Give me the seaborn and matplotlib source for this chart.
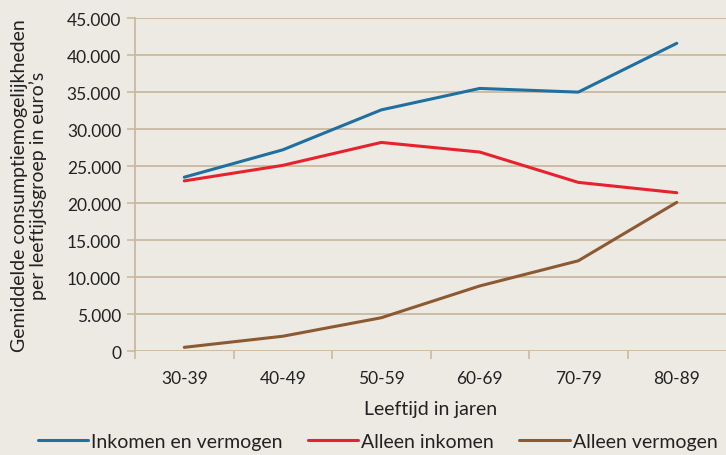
import pandas as pd
import numpy as np
import seaborn as sns
import matplotlib.pyplot as plt
from matplotlib.ticker import FuncFormatter

leeftijd = ['30-39', '40-49', '50-59', '60-69', '70-79', '80-89']
inkomen_en_vermogen = [23500, 27200, 32600, 35500, 35000, 41600]
alleen_inkomen = [23000, 25100, 28200, 26900, 22800, 21400]
alleen_vermogen = [500, 2000, 4500, 8800, 12200, 20100]

series = {
    'Inkomen en vermogen': inkomen_en_vermogen,
    'Alleen inkomen': alleen_inkomen,
    'Alleen vermogen': alleen_vermogen,
}
colors = ['#1f6fa0', '#e8212e', '#8c5a32']

rows = []
for name, vals in series.items():
    for i, (lab, v) in enumerate(zip(leeftijd, vals)):
        rows.append({'pos': i, 'Leeftijd': lab, 'Waarde': v, 'Groep': name})
df = pd.DataFrame(rows)

bg = '#edeae3'
grid = '#c9b9a0'

sns.set_theme(style='white')
plt.rcParams['font.family'] = ['Lato', 'DejaVu Sans']

fig = plt.figure(figsize=(7.26, 4.56), dpi=100, facecolor=bg)
ax = fig.add_axes([0.186, 0.228, 0.814, 0.73])
ax.set_facecolor(bg)

sns.lineplot(data=df, x='pos', y='Waarde', hue='Groep', palette=colors,
             linewidth=2.2, ax=ax, legend=True)

ax.set_xlim(-0.5, 5.5)
ax.set_ylim(0, 45000)
ax.set_yticks(np.arange(0, 45001, 5000))
ax.yaxis.set_major_formatter(FuncFormatter(lambda v, p: f'{int(v):,}'.replace(',', '.')))
ax.grid(axis='y', color=grid, linewidth=1.3)
ax.set_axisbelow(True)

ax.set_xticks(range(len(leeftijd)))
ax.set_xticklabels(leeftijd)
ax.set_xticks(np.arange(-0.5, 5.0, 1.0), minor=True)
ax.tick_params(axis='x', which='major', length=0, pad=14, labelsize=12.5, colors='#222222')
ax.tick_params(axis='x', which='minor', length=6, width=1.2, color=grid, bottom=True)
ax.tick_params(axis='y', length=6, width=1.2, color=grid, left=True, labelsize=12.5,
               colors='#222222', pad=4)
ax.tick_params(axis='y', colors=grid, labelcolor='#222222')

for s in ['top', 'right', 'bottom']:
    ax.spines[s].set_visible(False)
ax.spines['left'].set_color(grid)
ax.spines['left'].set_linewidth(1.3)

ax.set_xlabel('Leeftijd in jaren', fontsize=14, color='#222222', labelpad=10)
ax.set_ylabel('Gemiddelde consumptiemogelijkheden\nper leeftijdsgroep in euro\u2019s',
              fontsize=14, color='#222222', labelpad=14, linespacing=1.1)

handles, labels = ax.get_legend_handles_labels()
ax.get_legend().remove()
fig.legend(handles, labels, loc='center', bbox_to_anchor=(0.52, 0.03),
           ncol=3, frameon=False, fontsize=14, handlelength=2.6, handletextpad=0.15,
           columnspacing=1.3, labelcolor='#222222', borderpad=0)

fig.savefig('out.png', dpi=100, facecolor=bg)
